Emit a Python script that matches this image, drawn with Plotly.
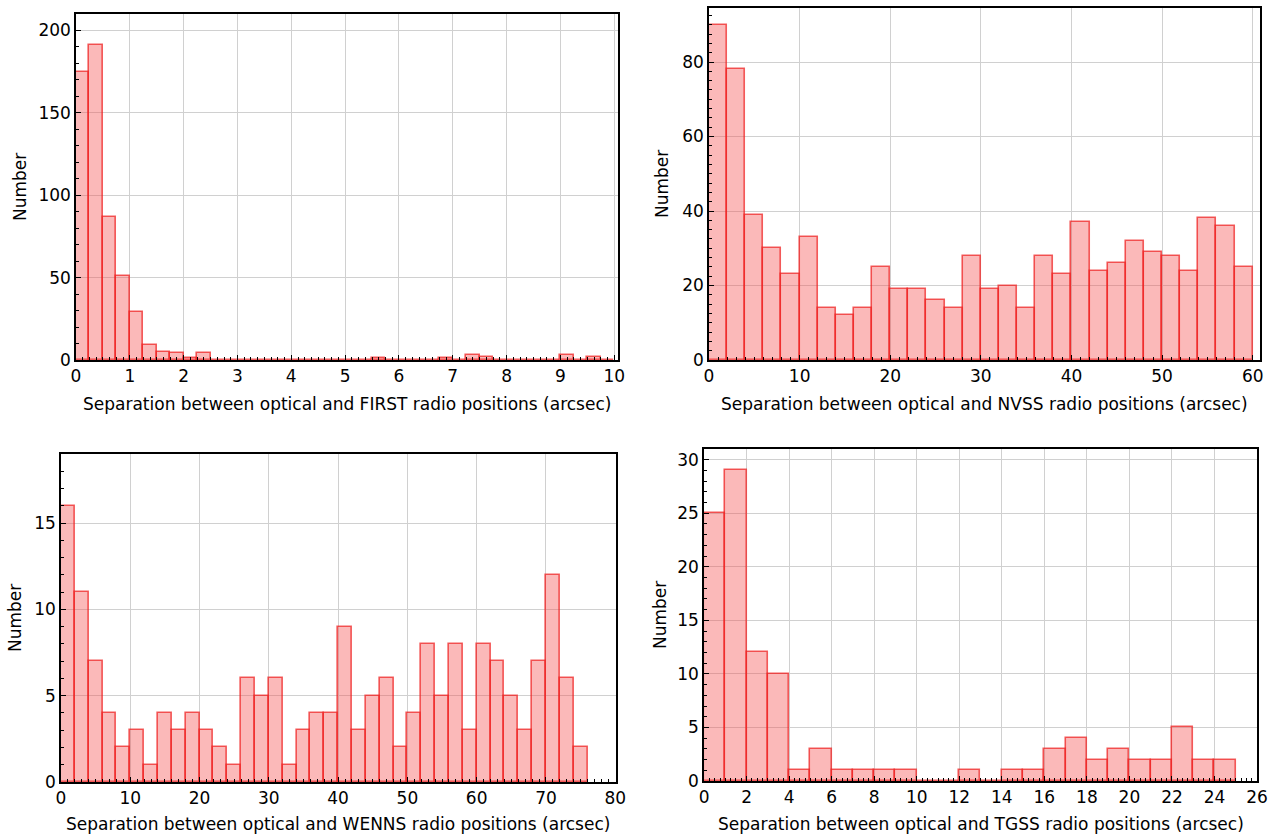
import numpy as np
import plotly.graph_objects as go

# Histogram counts of optical-radio position offsets for four radio surveys
first_bin_width = 0.25
first_counts = [175, 191, 87, 51, 29, 9, 5, 4, 1, 4,
                0, 0, 0, 0, 0, 0, 0, 0, 0, 0,
                0, 0, 1, 0, 0, 0, 0, 1, 0, 3,
                2, 0, 0, 0, 0, 0, 3, 0, 2, 0]

nvss_bin_width = 2
nvss_counts = [90, 78, 39, 30, 23, 33, 14, 12, 14, 25,
               19, 19, 16, 14, 28, 19, 20, 14, 28, 23,
               37, 24, 26, 32, 29, 28, 24, 38, 36, 25]

wenns_bin_width = 2
wenns_counts = [16, 11, 7, 4, 2, 3, 1, 4, 3, 4,
                3, 2, 1, 6, 5, 6, 1, 3, 4, 4,
                9, 3, 5, 6, 2, 4, 8, 5, 8, 3,
                8, 7, 5, 3, 7, 12, 6, 2]

tgss_bin_width = 1
tgss_counts = [25, 29, 12, 10, 1, 3, 1, 1, 1, 1,
               0, 0, 1, 0, 1, 1, 3, 4, 2, 3,
               2, 2, 5, 2, 2]

x_titles = [
    "Separation between optical and FIRST radio positions (arcsec)",
    "Separation between optical and NVSS radio positions (arcsec)",
    "Separation between optical and WENNS radio positions (arcsec)",
    "Separation between optical and TGSS radio positions (arcsec)",
]
y_title = "Number"

FILL = "rgba(245,80,80,0.40)"
EDGE = "rgba(238,30,30,0.72)"
GRID = "#d0d0d0"
FONT = "DejaVu Sans"
FSIZE = 17

W, H = 1275, 834

panels = [
    # counts, bin width, x domain, y domain, x range, y range,
    # x dtick, x minor, y dtick, y minor, y-title x (px), x-title y (px)
    (first_counts, first_bin_width, [0.0596, 0.4847], [0.5683, 0.9832], [0, 10.07], [0, 210], 1, 0.125, 50, 10, 20, 404),
    (nvss_counts, nvss_bin_width, [0.5561, 0.9882], [0.5683, 0.9904], [0, 60.8], [0, 94.5], 10, 1, 20, 2.5, 662, 404),
    (wenns_counts, wenns_bin_width, [0.0478, 0.4831], [0.0624, 0.4556], [0, 80.1], [0, 19], 10, 1, 5, 1, 15, 824),
    (tgss_counts, tgss_bin_width, [0.5522, 0.9859], [0.0635, 0.4616], [0, 26], [0, 31], 2, 0.25, 5, 1, 660, 824),
]

fig = go.Figure()
layout = {}
annotations = []
for i, (counts, bw, xd, yd, xr, yr, xdt, xmin, ydt, ymin, ytx, xty) in enumerate(panels):
    n = i + 1
    suffix = "" if n == 1 else str(n)
    lefts = np.arange(len(counts)) * bw
    fig.add_trace(go.Bar(
        x=lefts, y=counts, width=bw, offset=0,
        marker=dict(color=FILL, line=dict(color=EDGE, width=1.6)),
        xaxis="x" + suffix, yaxis="y" + suffix, showlegend=False,
    ))
    common = dict(
        showline=True, linecolor="black", linewidth=1.5, mirror=True,
        showgrid=True, gridcolor=GRID, gridwidth=1, zeroline=False,
        ticks="inside", ticklen=5, tickwidth=1.3, tickcolor="black",
        tickfont=dict(family=FONT, size=FSIZE, color="black"),
        automargin=False,
    )
    layout["xaxis" + suffix] = dict(
        common, domain=xd, range=xr, dtick=xdt, tick0=0,
        anchor="y" + suffix,
        minor=dict(ticks="inside", ticklen=3, tickwidth=1, tickcolor="black",
                   dtick=xmin, tick0=0, showgrid=False),
    )
    layout["yaxis" + suffix] = dict(
        common, domain=yd, range=yr, dtick=ydt, tick0=0,
        anchor="x" + suffix,
        minor=dict(ticks="inside", ticklen=3, tickwidth=1, tickcolor="black",
                   dtick=ymin, tick0=0, showgrid=False),
    )
    # axis titles placed in paper coordinates
    annotations.append(dict(
        text=x_titles[i], xref="paper", yref="paper",
        x=(xd[0] + xd[1]) / 2, y=1 - xty / H,
        xanchor="center", yanchor="middle", showarrow=False,
        font=dict(family=FONT, size=FSIZE, color="black"),
    ))
    annotations.append(dict(
        text=y_title, xref="paper", yref="paper",
        x=ytx / W, y=(yd[0] + yd[1]) / 2, textangle=-90,
        xanchor="center", yanchor="middle", showarrow=False,
        font=dict(family=FONT, size=FSIZE, color="black"),
    ))

fig.update_layout(
    width=W, height=H,
    margin=dict(l=0, r=0, t=0, b=0),
    paper_bgcolor="white", plot_bgcolor="white",
    bargap=0, font=dict(family=FONT, size=FSIZE, color="black"),
    annotations=annotations,
    **layout,
)

fig.write_html("out.html")
